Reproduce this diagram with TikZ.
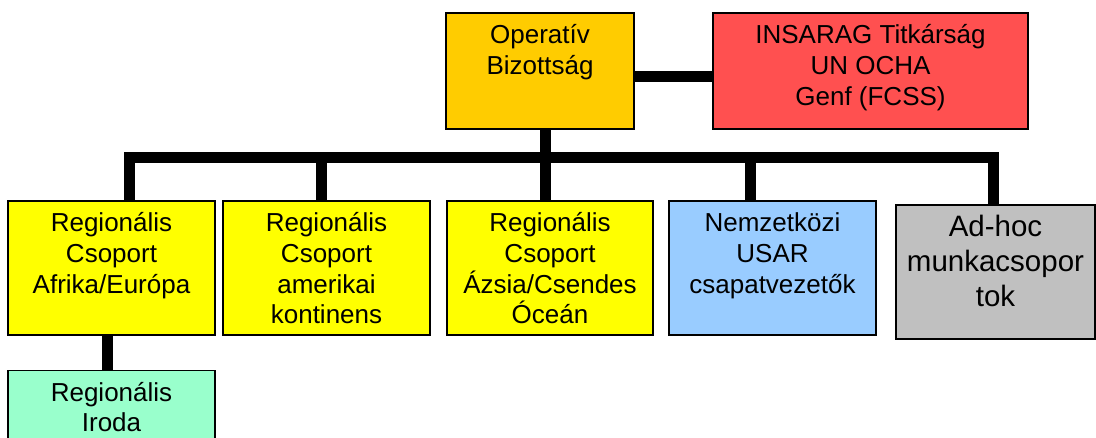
\documentclass[tikz,border=0pt]{standalone}
\usepackage{fontspec}
\setmainfont{Liberation Sans}
\usetikzlibrary{calc}
\definecolor{opfill}{HTML}{FFCC00}
\definecolor{insfill}{HTML}{FF5050}
\definecolor{regfill}{HTML}{FFFF00}
\definecolor{usarfill}{HTML}{99CCFF}
\definecolor{adhocfill}{HTML}{C0C0C0}
\definecolor{irodafill}{HTML}{99FFCC}
\begin{document}
\begin{tikzpicture}[x=1pt,y=-1pt,
  box/.style={draw=black, line width=1.5pt, inner sep=0pt, outer sep=0pt,
              minimum width=207pt, minimum height=134pt},
  boxtext/.style={anchor=north, align=center, inner sep=0pt,
                  font=\fontsize{26}{30.7}\selectfont, yshift=-9pt},
  bigtext/.style={anchor=north, align=center, inner sep=0pt,
                  font=\fontsize{29.5}{34.6}\selectfont, yshift=-7.5pt},
  link/.style={line width=11pt, line cap=butt, line join=miter}]
\path[use as bounding box] (0,0) rectangle (1096,437);
\clip (0,0) rectangle (1096,437);

% top level
\node[box, fill=opfill, minimum width=188pt, minimum height=116pt] (op) at (540,71) {};
\node[boxtext] (opT) at (op.north) {\strut Operatív\\Bizottság};
\node[box, fill=insfill, minimum width=315pt, minimum height=116pt] (ins) at (870.5,71) {};
\node[boxtext] (insT) at (ins.north) {\strut INSARAG Titkárság\\UN OCHA\\Genf (FCSS)};

% second level
\node[box, fill=regfill] (af) at (111.5,268) {};
\node[boxtext] (afT) at (af.north) {\strut Regionális\\Csoport\\Afrika/Európa};
\node[box, fill=regfill] (am) at (326.5,268) {};
\node[boxtext] (amT) at (am.north) {\strut Regionális\\Csoport\\amerikai\\kontinens};
\node[box, fill=regfill, minimum width=206pt] (as) at (550,268) {};
\node[boxtext] (asT) at (as.north) {\strut Regionális\\Csoport\\Ázsia/Csendes\\Óceán};
\node[box, fill=usarfill] (nz) at (772.5,268) {};
\node[boxtext] (nzT) at (nz.north) {\strut Nemzetközi\\USAR\\csapatvezetők};
\node[box, fill=adhocfill, minimum width=199pt] (ad) at (995.5,272) {};
\node[bigtext] (adT) at (ad.north) {\strut Ad-hoc\\munkacsopor\\tok};

% third level
\node[box, fill=irodafill] (ir) at (111.5,437.5) {};
\node[boxtext] (irT) at (ir.north) {\strut Regionális\\Iroda};

% connectors
\coordinate (busL) at (129,157);
\coordinate (busR) at (993,157);
\coordinate (amJ) at (321.5,157);
\coordinate (nzJ) at (750,157);
\draw[link] ($(op.east)+(0,5)$) -- ($(ins.west)+(0,5)$);
\draw[link] (af.north -| busL) -- (busL) -- (busR) -- (ad.north -| busR);
\draw[link] ($(op.south)+(5,0)$) -- ($(as.north)+(-5,0)$);
\draw[link] (amJ) -- (am.north -| amJ);
\draw[link] (nzJ) -- (nz.north -| nzJ);
\draw[link] ($(af.south)+(-4.5,0)$) -- ($(ir.north)+(-4.5,0)$);
\end{tikzpicture}
\end{document}
